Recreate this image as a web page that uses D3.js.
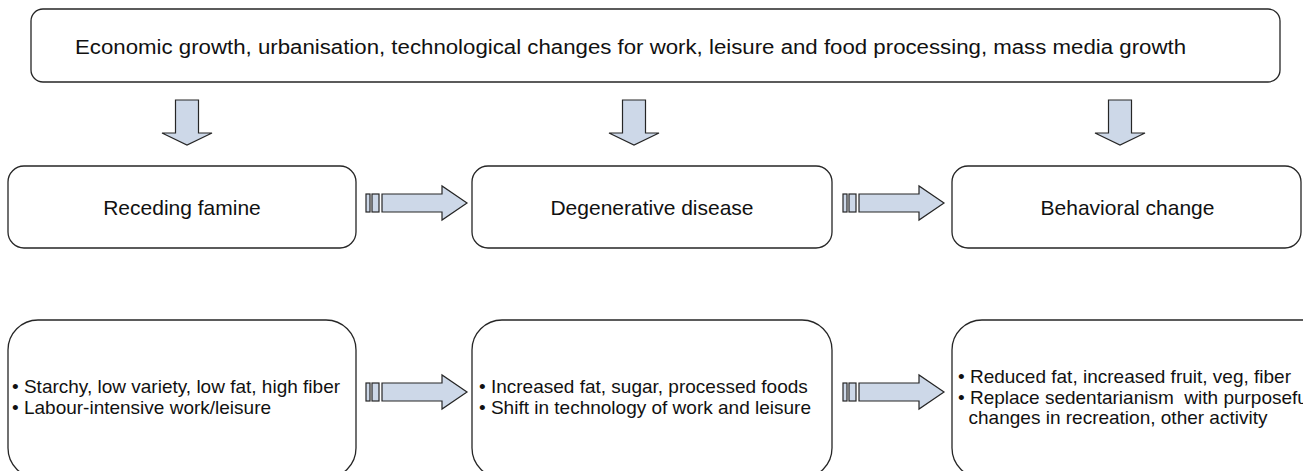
<!DOCTYPE html>
<html>
<head>
<meta charset="utf-8">
<script src="https://cdn.jsdelivr.net/npm/d3@7"></script>
<style>
  html, body { margin: 0; padding: 0; background: #fff; }
  svg { display: block; }
  text { font-family: "Liberation Sans", Arial, sans-serif; fill: #111; }
</style>
</head>
<body>
<svg id="chart" width="1303" height="471"></svg>
<script>
// ---- content ----
const topLabel = "Economic growth, urbanisation, technological changes for work, leisure and food processing, mass media growth";
const stages = ["Receding famine", "Degenerative disease", "Behavioral change"];
const details = [
  ["\u2022 Starchy, low variety, low fat, high fiber", "\u2022 Labour-intensive work/leisure"],
  ["\u2022 Increased fat, sugar, processed foods", "\u2022 Shift in technology of work and leisure"],
  ["\u2022 Reduced fat, increased fruit, veg, fiber", "\u2022 Replace sedentarianism  with purposeful", "  changes in recreation, other activity"]
];

// ---- layout ----
const colLeft = [8, 472, 952];
const colRight = [356, 832, 1303];
const textInset = [4, 7, 6];
const downArrowX = [187, 634, 1120];
const arrowFill = "#cdd8e8";
const ink = "#262626";

const svg = d3.select("#chart");

// top box
svg.append("rect")
  .attr("x", 31).attr("y", 9).attr("width", 1249).attr("height", 73)
  .attr("rx", 12).attr("ry", 12)
  .attr("fill", "#fff").attr("stroke", ink).attr("stroke-width", 1.3);
svg.append("text")
  .attr("x", 75).attr("y", 54)
  .attr("font-size", 20)
  .attr("textLength", 1111).attr("lengthAdjust", "spacingAndGlyphs")
  .text(topLabel);

// down arrows
function downArrow(cx) {
  const sw = 11.5, hw = 25, y0 = 100, y1 = 133, y2 = 145;
  const p = d3.path();
  p.moveTo(cx - sw, y0); p.lineTo(cx + sw, y0); p.lineTo(cx + sw, y1);
  p.lineTo(cx + hw, y1); p.lineTo(cx, y2); p.lineTo(cx - hw, y1);
  p.lineTo(cx - sw, y1); p.closePath();
  svg.append("path").attr("d", p.toString())
    .attr("fill", arrowFill).attr("stroke", ink).attr("stroke-width", 1.2);
}
downArrowX.forEach(downArrow);

// right arrows
function rightArrow(x0, cy) {
  const g = svg.append("g");
  const sh = 9, hh = 17;
  g.append("rect").attr("x", x0).attr("y", cy - sh).attr("width", 4).attr("height", 2 * sh)
    .attr("fill", arrowFill).attr("stroke", ink).attr("stroke-width", 1.2);
  g.append("rect").attr("x", x0 + 6).attr("y", cy - sh).attr("width", 7).attr("height", 2 * sh)
    .attr("fill", arrowFill).attr("stroke", ink).attr("stroke-width", 1.2);
  const s = x0 + 16, hb = x0 + 76, tip = x0 + 101;
  const p = d3.path();
  p.moveTo(s, cy - sh); p.lineTo(hb, cy - sh); p.lineTo(hb, cy - hh);
  p.lineTo(tip, cy); p.lineTo(hb, cy + hh); p.lineTo(hb, cy + sh);
  p.lineTo(s, cy + sh); p.closePath();
  g.append("path").attr("d", p.toString())
    .attr("fill", arrowFill).attr("stroke", ink).attr("stroke-width", 1.2);
}
const arrowStarts = [366, 843];

// middle row
const midTop = 166, midBot = 248;
stages.forEach((s, i) => {
  svg.append("rect")
    .attr("x", colLeft[i]).attr("y", midTop)
    .attr("width", colRight[i] - colLeft[i] - (i === 2 ? 2 : 0)).attr("height", midBot - midTop)
    .attr("rx", 16).attr("ry", 16)
    .attr("fill", "#fff").attr("stroke", ink).attr("stroke-width", 1.3);
  svg.append("text")
    .attr("x", (colLeft[i] + colRight[i]) / 2)
    .attr("y", 215)
    .attr("text-anchor", "middle")
    .attr("font-size", 21)
    .text(s);
});
arrowStarts.forEach(x => rightArrow(x, 203));

// bottom row
const botTop = 320, botBot = 478;
details.forEach((lines, i) => {
  svg.append("rect")
    .attr("x", colLeft[i]).attr("y", botTop)
    .attr("width", (i === 2 ? 400 : colRight[i] - colLeft[i])).attr("height", botBot - botTop)
    .attr("rx", 30).attr("ry", 30)
    .attr("fill", "#fff").attr("stroke", ink).attr("stroke-width", 1.3);
  const n = lines.length;
  const lh = 20.5;
  const cy = 397;
  lines.forEach((t, j) => {
    svg.append("text")
      .attr("x", colLeft[i] + textInset[i])
      .attr("y", cy - (n - 1) * lh / 2 + j * lh + 6.5)
      .attr("font-size", 19)
      .attr("xml:space", "preserve")
      .style("white-space", "pre")
      .text(t);
  });
});
arrowStarts.forEach(x => rightArrow(x, 392));
</script>
</body>
</html>
